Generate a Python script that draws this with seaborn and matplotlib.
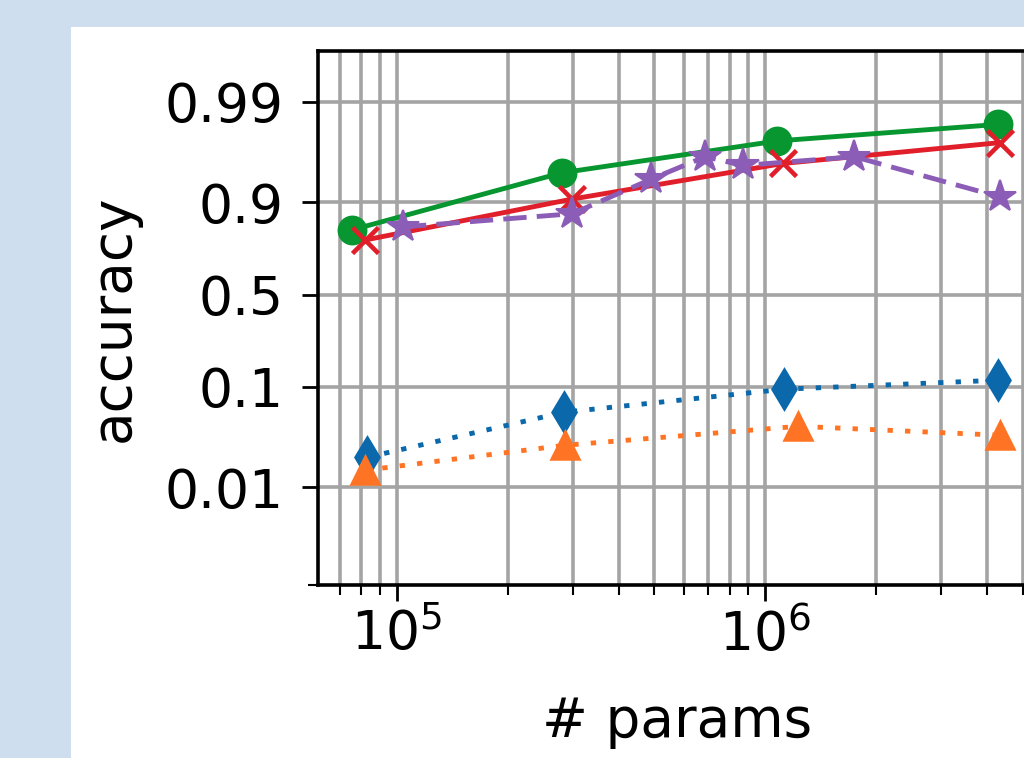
import matplotlib
matplotlib.use("Agg")
import matplotlib.pyplot as plt
import seaborn as sns
import pandas as pd
from matplotlib.patches import Rectangle
from matplotlib.ticker import NullFormatter, FixedLocator, LogLocator

# ---- data ----
blue_x = [82900, 284000, 1127000, 4300000]
blue_y = [0.0203, 0.0572, 0.0951, 0.1153]
orange_x = [81800, 286000, 1230000, 4350000]
orange_y = [0.0150, 0.0269, 0.0416, 0.0339]
green_x = [75500, 280000, 1080000, 4300000]
green_y = [0.824, 0.948, 0.975, 0.983]
red_x = [81800, 299000, 1120000, 4350000]
red_y = [0.786, 0.907, 0.958, 0.974]
purple_x = [103800, 299000, 490000, 687000, 871000, 1745000, 4350000]
purple_y = [0.834, 0.873, 0.940, 0.964, 0.956, 0.964, 0.911]

ytick_vals = [0.01, 0.1, 0.5, 0.9, 0.99]
ytick_labels = ["0.01", "0.1", "0.5", "0.9", "0.99"]
x_label = "# params"
y_label = "accuracy"

# ---- figure ----
W, H = 1024, 758
fig = plt.figure(figsize=(W / 100, H / 100), dpi=100, facecolor="#cfdeee")
fig.add_artist(Rectangle((71 / W, 0), 1, (H - 27) / H, transform=fig.transFigure,
                         facecolor="white", edgecolor="none", zorder=-10))

left_px, right_px, top_px, bot_px = 318, 1036, 51, 584.5
ax = fig.add_axes([left_px / W, (H - bot_px) / H, (right_px - left_px) / W, (bot_px - top_px) / H])
ax.set_facecolor("white")

LW = 3.5
series = [
    (blue_x, blue_y, "#0a68ab", "d", 20, (0, (1.1, 2.5)), 1.8),
    (orange_x, orange_y, "#ff7424", "^", 20, (0, (1.1, 2.5)), 1.8),
    (green_x, green_y, "#07962f", "o", 20, "-", 1.5),
    (red_x, red_y, "#e01f2b", "x", 19, "-", 3.3),
    (purple_x, purple_y, "#8c5db6", "*", 24, (0, (4.8, 2.1)), 1.5),
]
for xs, ys, col, mk, ms, ls, mew in series:
    df = pd.DataFrame({"x": xs, "y": ys})
    sns.lineplot(data=df, x="x", y="y", ax=ax, color=col, marker=mk, markersize=ms,
                 linestyle=ls, linewidth=LW, markeredgecolor=col, markeredgewidth=mew,
                 estimator=None, sort=False)

ax.set_xscale("log")
ax.set_yscale("logit")
ax.set_xlim(61000, 5.44e6)
ax.set_ylim(0.001, 0.997)

ax.yaxis.set_major_locator(FixedLocator(ytick_vals))
ax.set_yticklabels(ytick_labels)
ax.yaxis.set_minor_locator(FixedLocator([0.001]))
ax.yaxis.set_minor_formatter(NullFormatter())
ax.xaxis.set_major_locator(LogLocator(base=10))
ax.xaxis.set_minor_locator(LogLocator(base=10, subs=range(2, 10)))
ax.xaxis.set_minor_formatter(NullFormatter())

grid_col = "#a4a4a4"
ax.set_axisbelow(True)
ax.grid(True, which="both", axis="x", color=grid_col, linewidth=2.6)
ax.grid(True, which="major", axis="y", color=grid_col, linewidth=2.6)

for sp in ax.spines.values():
    sp.set_linewidth(2.6)
    sp.set_color("black")

ax.tick_params(axis="both", which="major", length=11.5, width=2.0, labelsize=38.5, color="black")
ax.tick_params(axis="both", which="minor", length=7, width=1.5, color="black")
ax.tick_params(axis="y", which="major", pad=13.5)
ax.tick_params(axis="x", which="major", pad=6)

ax.set_xlabel(x_label, fontsize=39.5)
ax.set_ylabel(y_label, fontsize=39.5)
ax.xaxis.set_label_coords(0.5, (bot_px - 695) / (bot_px - top_px))
ax.yaxis.set_label_coords((141 - left_px) / (right_px - left_px), 0.5)

fig.savefig("out.png", dpi=100, facecolor=fig.get_facecolor())
